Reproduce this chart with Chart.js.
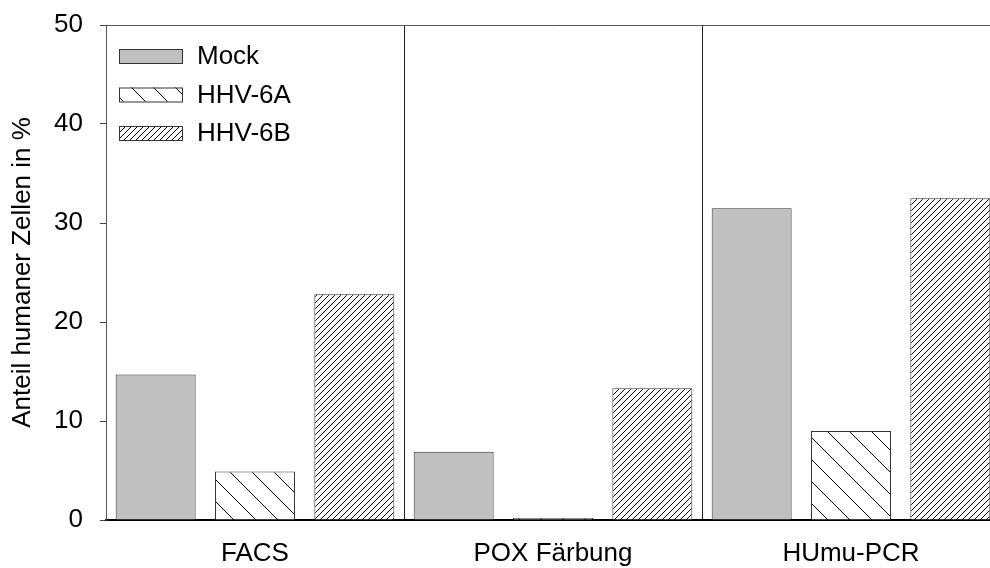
<!DOCTYPE html>
<html><head><meta charset="utf-8">
<script src="https://cdn.jsdelivr.net/npm/chart.js@4/dist/chart.umd.min.js"></script>
<style>
html,body{margin:0;padding:0;overflow:hidden;background:#fff;width:990px;height:568px}
#wrap{position:absolute;left:0;top:0;width:1000px;height:568px}
</style>
</head><body><div id="wrap"><canvas id="c" width="1000" height="568"></canvas></div>
<script>
const categories = ['FACS', 'POX Färbung', 'HUmu-PCR'];
const seriesNames = ['Mock', 'HHV-6A', 'HHV-6B'];
const mockValues = [14.7, 6.9, 31.5];
const hhv6aValues = [4.9, 0.2, 9.0];
const hhv6bValues = [22.8, 13.3, 32.5];
const yTickValues = [0, 10, 20, 30, 40, 50];
const yTitle = 'Anteil humaner Zellen in %';

const FONT = '"Liberation Sans", Arial, Helvetica, sans-serif';
const canvas = document.getElementById('c');
const mainCtx = canvas.getContext('2d');

function hatch(s, dir, bg, lw) {
  const c = document.createElement('canvas'); c.width = s; c.height = s;
  const g = c.getContext('2d');
  g.fillStyle = bg; g.fillRect(0, 0, s, s);
  g.strokeStyle = '#000'; g.lineWidth = lw;
  g.beginPath();
  if (dir === '/') {
    g.moveTo(-1, s + 1); g.lineTo(s + 1, -1);
    g.moveTo(-1, 1); g.lineTo(1, -1);
    g.moveTo(s - 1, s + 1); g.lineTo(s + 1, s - 1);
  } else {
    g.moveTo(-1, -1); g.lineTo(s + 1, s + 1);
    g.moveTo(s - 1, -1); g.lineTo(s + 1, 1);
    g.moveTo(-1, s - 1); g.lineTo(1, s + 1);
  }
  g.stroke();
  return mainCtx.createPattern(c, 'repeat');
}

const fills = ['#c0c0c0', hatch(22, '\\', '#ffffff', 1), hatch(6, '/', '#ffffff', 1)];
const valueSets = [mockValues, hhv6aValues, hhv6bValues];

const insideLegend = {
  id: 'insideLegend',
  afterDatasetsDraw(chart) {
    const {ctx, chartArea} = chart;
    ctx.save();
    chart.data.datasets.forEach((ds, i) => {
      const x = chartArea.left + 13, y = chartArea.top + 24 + i * 38.5;
      ctx.fillStyle = ds.backgroundColor;
      ctx.fillRect(x, y, 63, 14);
      ctx.strokeStyle = ds.borderColor; ctx.lineWidth = 1;
      ctx.strokeRect(x + 0.5, y + 0.5, 63, 14);
      ctx.fillStyle = '#000';
      ctx.font = '26px ' + FONT;
      ctx.textBaseline = 'middle'; ctx.textAlign = 'left';
      ctx.fillText(ds.label, x + 78, y + 8);
    });
    ctx.restore();
  }
};

new Chart(canvas, {
  type: 'bar',
  data: {
    labels: categories,
    datasets: seriesNames.map((name, i) => ({
      label: name,
      data: valueSets[i],
      backgroundColor: fills[i],
      borderColor: '#333',
      borderWidth: 1,
      barPercentage: 0.805,
      categoryPercentage: 1.0
    }))
  },
  options: {
    responsive: false,
    animation: false,
    devicePixelRatio: 1,
    layout: {padding: {top: 25, right: 0, bottom: 0, left: 0}},
    plugins: {legend: {display: false}, tooltip: {enabled: false}},
    scales: {
      x: {
        offset: true,
        afterFit: s => { s.height = 48; },
        grid: {offset: true, color: '#222', lineWidth: 1, drawTicks: false},
        border: {display: true, color: '#000', width: 2},
        ticks: {font: {family: FONT, size: 26}, color: '#000', padding: 18}
      },
      y: {
        min: 0, max: 50,
        afterBuildTicks: s => { s.ticks = yTickValues.map(v => ({value: v})); },
        afterFit: s => { s.width = 106; s.paddingTop = 0; s.paddingBottom = 0; },
        grid: {
          color: c => (c.tick && c.tick.value === 50) ? '#555' : 'rgba(0,0,0,0)',
          tickColor: '#444', tickLength: 6, lineWidth: 1, drawTicks: true
        },
        border: {display: true, color: '#555', width: 1},
        ticks: {font: {family: FONT, size: 26}, color: '#000', padding: 17},
        title: {display: true, text: yTitle, color: '#000', font: {family: FONT, size: 26}, padding: {top: 7, bottom: 0}}
      }
    }
  },
  plugins: [insideLegend]
});
</script>
</body></html>
